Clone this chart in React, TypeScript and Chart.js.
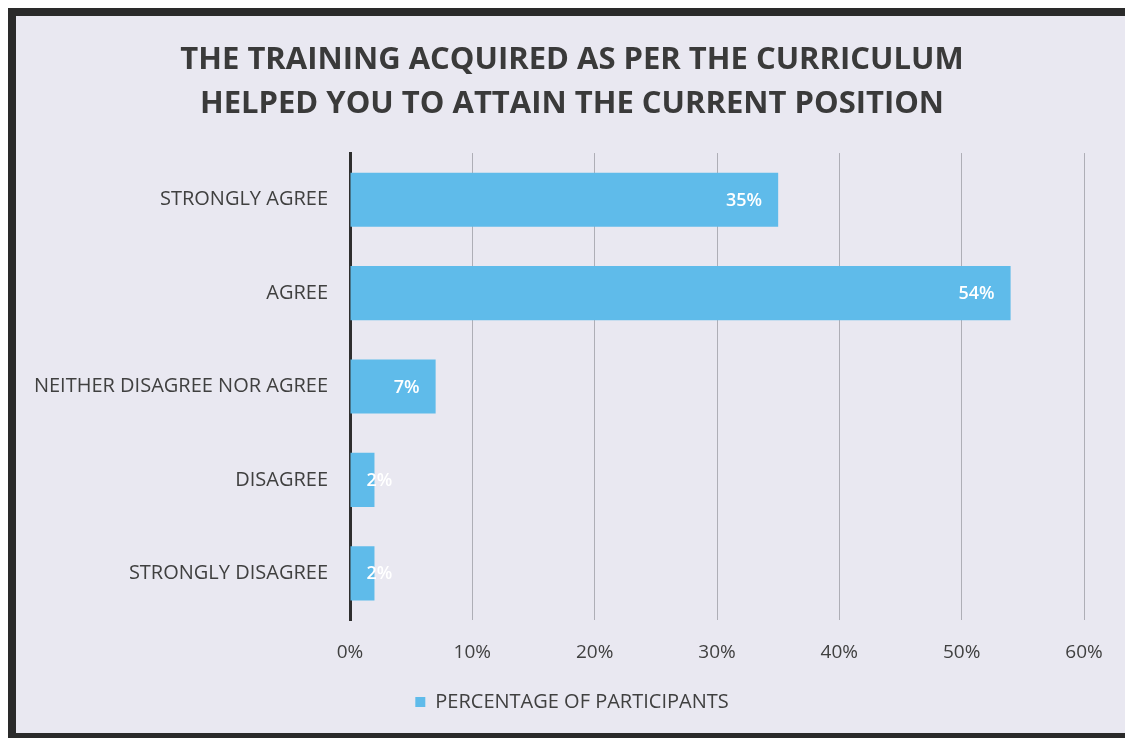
import React, { useEffect, useRef } from "react";
import { Chart, registerables } from "chart.js";

Chart.register(...registerables);

const titleLines = [
  "THE TRAINING ACQUIRED AS PER THE CURRICULUM",
  "HELPED YOU TO ATTAIN THE CURRENT POSITION",
];
const categories = [
  "STRONGLY AGREE",
  "AGREE",
  "NEITHER DISAGREE NOR AGREE",
  "DISAGREE",
  "STRONGLY DISAGREE",
];
const seriesName = "PERCENTAGE OF PARTICIPANTS";
const percentages = [35, 54, 7, 2, 2];
const xTicks = [0, 10, 20, 30, 40, 50, 60];

const FONT = "'Open Sans', sans-serif";
const BAR = "#5fbbea";
const BG = "#e9e8f1";

const labelPlugin = {
  id: "barLabels",
  afterDatasetsDraw(chart: any) {
    const ctx = chart.ctx;
    const meta = chart.getDatasetMeta(0);
    ctx.save();
    ctx.font = `600 18px ${FONT}`;
    ctx.fillStyle = "#ffffff";
    ctx.textBaseline = "middle";
    ctx.textAlign = "left";
    meta.data.forEach((bar: any, i: number) => {
      const txt = `${percentages[i]}%`;
      const w = ctx.measureText(txt).width;
      const x = Math.max(bar.x - 16 - w, bar.base + 16);
      ctx.fillText(txt, x, bar.y + 1);
    });
    ctx.restore();
  },
};

const bgPlugin = {
  id: "bg",
  beforeDraw(chart: any) {
    const ctx = chart.ctx;
    ctx.save();
    ctx.fillStyle = BG;
    ctx.fillRect(0, 0, chart.width, chart.height);
    ctx.restore();
  },
};

export default function App() {
  const ref = useRef<HTMLCanvasElement>(null);
  useEffect(() => {
    if (!ref.current) return;
    const chart = new Chart(ref.current, {
      type: "bar",
      data: {
        labels: categories,
        datasets: [
          {
            label: seriesName,
            data: percentages,
            backgroundColor: BAR,
            borderWidth: 0,
            categoryPercentage: 1,
            barPercentage: 0.58,
            yAxisID: "y",
          },
        ],
      },
      options: {
        indexAxis: "y",
        animation: false,
        responsive: false,
        layout: { padding: { left: 0, right: 0, top: 0, bottom: 11 } },
        plugins: {
          title: {
            display: true,
            text: titleLines,
            color: "#3a3a3a",
            font: { family: FONT, size: 31, weight: "bold", lineHeight: 1.42 },
            padding: { top: 22, bottom: 27 },
          },
          legend: {
            position: "bottom",
            labels: {
              color: "#404040",
              font: { family: FONT, size: 20 },
              boxWidth: 10,
              boxHeight: 10,
              padding: 10,
            },
          },
          tooltip: { enabled: false },
        },
        scales: {
          x: {
            min: 0,
            max: 60,
            afterBuildTicks: (s: any) => {
              s.ticks = xTicks.map((v) => ({ value: v }));
            },
            ticks: {
              color: "#404040",
              font: { family: FONT, size: 19 },
              padding: 21,
              callback: (v: any) => `${v}%`,
            },
            grid: { color: "#aeaeb6", lineWidth: 1, drawTicks: false },
            border: { display: false },
            afterFit: (s: any) => {
              s.height = 62;
            },
          },
          y: {
            ticks: {
              color: "#404040",
              font: { family: FONT, size: 20 },
              padding: 22,
            },
            grid: { display: false, drawTicks: false },
            border: { display: true, color: "#2e2e2e", width: 3 },
            afterFit: (s: any) => {
              s.width = 334;
            },
          },
          y2: {
            type: "category",
            position: "right",
            labels: categories,
            ticks: { display: false },
            grid: { display: false, drawTicks: false },
            border: { display: false },
            afterFit: (s: any) => {
              s.width = 44;
            },
          },
        },
      },
      plugins: [bgPlugin, labelPlugin],
    });
    return () => chart.destroy();
  }, []);

  return (
    <div
      style={{
        position: "fixed",
        left: 0,
        top: 0,
        width: 1125,
        height: 738,
        background: "#ffffff",
        overflow: "hidden",
      }}
    >
      <div
        style={{
          position: "absolute",
          left: 8,
          top: 8,
          width: 1160,
          height: 717,
          borderLeft: "8px solid #2a2a2a",
          borderTop: "8px solid #2a2a2a",
          borderBottom: "8px solid #2a2a2a",
          background: BG,
        }}
      >
        <canvas ref={ref} width={1112} height={717} style={{ display: "block" }} />
      </div>
    </div>
  );
}
